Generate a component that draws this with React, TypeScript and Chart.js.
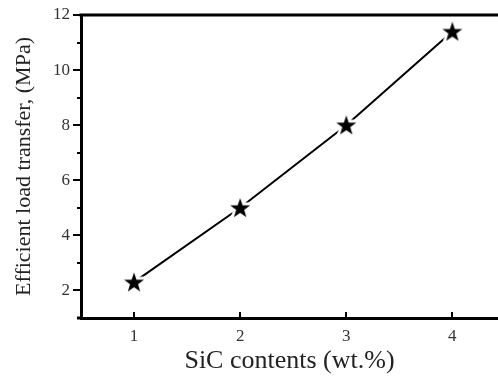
import React, { useEffect, useRef } from "react";
import { Chart, registerables } from "chart.js";

Chart.register(...registerables);

const sicContents = [1, 2, 3, 4];
const loadTransfer = [2.3, 5.0, 8.0, 11.4];
const xTickValues = [1, 2, 3, 4];
const yTickValues = [1, 2, 3, 4, 5, 6, 7, 8, 9, 10, 11, 12];
const yLabelValues = [2, 4, 6, 8, 10, 12];
const xTitle = "SiC contents (wt.%)";
const yTitle = "Efficient load transfer, (MPa)";

function makeStar(): HTMLCanvasElement {
  const size = 30;
  const c = document.createElement("canvas");
  c.width = size;
  c.height = size;
  const g = c.getContext("2d")!;
  const cx = size / 2;
  const cy = size / 2 + 0.8;
  const R = 10.5;
  const r = R * 0.4;
  g.beginPath();
  for (let i = 0; i < 10; i++) {
    const ang = -Math.PI / 2 + (i * Math.PI) / 5;
    const rad = i % 2 === 0 ? R : r;
    const px = cx + rad * Math.cos(ang);
    const py = cy + rad * Math.sin(ang);
    if (i === 0) g.moveTo(px, py);
    else g.lineTo(px, py);
  }
  g.closePath();
  g.lineJoin = "round";
  g.strokeStyle = "#fff";
  g.lineWidth = 6;
  g.stroke();
  g.fillStyle = "#000";
  g.fill();
  return c;
}

const decorPlugin = {
  id: "decor",
  afterDraw(chart: any) {
    const { ctx, chartArea, scales } = chart;
    const xs = scales.x;
    const ys = scales.y;
    ctx.save();
    ctx.strokeStyle = "#000";
    ctx.lineWidth = 2;
    ys.ticks.forEach((t: any) => {
      const py = Math.round(ys.getPixelForValue(t.value));
      const len = yLabelValues.includes(t.value) ? 8 : 4;
      ctx.beginPath();
      ctx.moveTo(chartArea.left - len, py);
      ctx.lineTo(chartArea.left, py);
      ctx.stroke();
    });
    xs.ticks.forEach((t: any) => {
      const px = Math.round(xs.getPixelForValue(t.value));
      ctx.beginPath();
      ctx.moveTo(px, chartArea.bottom);
      ctx.lineTo(px, chartArea.bottom - 6);
      ctx.stroke();
    });
    ctx.lineWidth = 3;
    ctx.beginPath();
    ctx.moveTo(chartArea.left - 1.5, chartArea.top);
    ctx.lineTo(chartArea.right, chartArea.top);
    ctx.stroke();
    ctx.beginPath();
    ctx.moveTo(chartArea.left - 4, chartArea.bottom);
    ctx.lineTo(chartArea.left, chartArea.bottom);
    ctx.stroke();
    ctx.restore();
  },
};

export default function App() {
  const ref = useRef<HTMLCanvasElement>(null);
  useEffect(() => {
    document.body.style.margin = "0";
    const star = makeStar();
    const chart = new Chart(ref.current!, {
      type: "line",
      data: {
        datasets: [
          {
            data: sicContents.map((x, i) => ({ x, y: loadTransfer[i] })),
            borderColor: "#000",
            borderWidth: 2,
            pointStyle: star as any,
            pointRadius: 10,
            tension: 0,
          },
        ],
      },
      options: {
        animation: false,
        responsive: false,
        layout: { autoPadding: false, padding: { top: 15, left: 0, right: 0, bottom: 0 } },
        plugins: { legend: { display: false }, tooltip: { enabled: false } },
        scales: {
          x: {
            type: "linear",
            min: 0.5,
            max: 4.43,
            afterBuildTicks: (s: any) => {
              s.ticks = xTickValues.map((v) => ({ value: v }));
            },
            afterFit: (s: any) => {
              s.height = 60;
              s.paddingLeft = 0;
              s.paddingRight = 0;
            },
            grid: { display: false, drawTicks: false },
            border: { display: true, color: "#000", width: 3 },
            ticks: {
              padding: 8,
              color: "#333",
              font: { family: "Liberation Serif", size: 17 },
              maxRotation: 0,
              callback: (v: any) => String(v),
            },
            title: {
              display: true,
              text: xTitle,
              color: "#222",
              font: { family: "Liberation Serif", size: 26 },
              padding: { top: 0, bottom: 1 },
            },
          },
          y: {
            type: "linear",
            min: 1,
            max: 12,
            afterBuildTicks: (s: any) => {
              s.ticks = yTickValues.map((v) => ({ value: v }));
            },
            afterFit: (s: any) => {
              s.width = 81;
              s.paddingTop = 0;
              s.paddingBottom = 0;
            },
            grid: { display: false, drawTicks: false },
            border: { display: true, color: "#000", width: 3 },
            ticks: {
              padding: 11,
              color: "#333",
              font: { family: "Liberation Serif", size: 17 },
              callback: (v: any) => (yLabelValues.includes(v) ? String(v) : ""),
            },
            title: {
              display: true,
              text: yTitle,
              color: "#222",
              font: { family: "Liberation Serif", size: 22 },
              padding: { top: 11, bottom: 0 },
            },
          },
        },
      },
      plugins: [decorPlugin],
    });
    return () => chart.destroy();
  }, []);
  return (
    <div style={{ position: "absolute", left: 0, top: 0, width: 498, height: 378 }}>
      <canvas ref={ref} width={498} height={378} />
    </div>
  );
}
